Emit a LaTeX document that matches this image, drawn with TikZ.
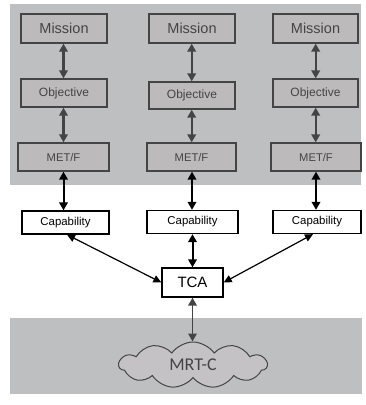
\documentclass[tikz,border=0pt]{standalone}
\usepackage{fontspec}
\setmainfont{Liberation Sans}
\newfontfamily\cloudfont{Carlito}
\usetikzlibrary{arrows.meta,shapes.symbols}
\definecolor{panelgray}{HTML}{BDBFC1}
\definecolor{boxgray}{HTML}{BDBABB}
\definecolor{inkgray}{HTML}{444444}
\definecolor{cloudgray}{HTML}{C5C2C5}
\tikzset{
  graybox/.style={draw=inkgray, line width=1.3pt, fill=boxgray, text=inkgray,
    inner sep=0pt, minimum height=28pt},
  whitebox/.style={draw=black, line width=1.3pt, fill=white, text=black,
    inner sep=0pt, minimum height=23pt},
  grayarrow/.style={draw=inkgray, line width=2.1pt,
    {Triangle[length=8pt,width=8.5pt]}-{Triangle[length=8pt,width=8.5pt]}},
  blackarrow/.style={draw=black, line width=2pt,
    {Triangle[length=8pt,width=8.5pt]}-{Triangle[length=8pt,width=8.5pt]}},
  thinarrow/.style={draw=black, line width=1.2pt,
    {Triangle[length=8pt,width=7.5pt]}-{Triangle[length=8pt,width=7.5pt]}},
  fmission/.style={font=\fontsize{14.5}{16}\selectfont},
  fobjective/.style={font=\fontsize{12}{14}\selectfont},
  fmetf/.style={font=\fontsize{11.2}{13}\selectfont},
  fcap/.style={font=\fontsize{11.4}{13}\selectfont},
}
\begin{document}
\begin{tikzpicture}[x=1pt,y=-1pt]
  \useasboundingbox (0,0) rectangle (365,405);
  % shaded panels
  \fill[panelgray] (10,4) rectangle (361,185);
  \fill[panelgray] (10,318) rectangle (362,394);

  % mission boxes
  \node[graybox, fmission, minimum width=86pt, minimum height=29pt] (m1) at (64,28.5) {Mission};
  \node[graybox, fmission, minimum width=86pt, minimum height=29pt] (m2) at (192,28.5) {Mission};
  \node[graybox, fmission, minimum width=85pt, minimum height=29pt] (m3) at (315.5,28.5) {Mission};

  % objective boxes
  \node[graybox, fobjective, minimum width=86pt] (o1) at (64,93) {Objective};
  \node[graybox, fobjective, minimum width=86pt, minimum height=27pt] (o2) at (192,95.5) {Objective};
  \node[graybox, fobjective, minimum width=85pt] (o3) at (315.5,93) {Objective};

  % MET/F boxes
  \node[graybox, fmetf, minimum width=91pt] (f1) at (63.5,157) {MET/F};
  \node[graybox, fmetf, minimum width=89pt] (f2) at (191.5,157) {MET/F};
  \node[graybox, fmetf, minimum width=90pt] (f3) at (316,157) {MET/F};

  % capability boxes
  \node[whitebox, fcap, minimum width=87pt] (c1) at (65.5,222.5) {Capability};
  \node[whitebox, fcap, minimum width=91pt] (c2) at (192.5,222) {Capability};
  \node[whitebox, fcap, minimum width=88pt] (c3) at (317,222) {Capability};

  % TCA
  \node[whitebox, font=\fontsize{15}{17}\selectfont, minimum width=61pt, minimum height=29pt] (tca) at (192.5,282.5) {TCA};

  % cloud
  \node[cloud, cloud puffs=11, cloud puff arc=110, aspect=3.3, draw=inkgray, line width=1pt,
        fill=cloudgray, text=inkgray, font=\cloudfont\fontsize{18}{20}\selectfont,
        minimum width=148pt, minimum height=46pt, inner sep=0pt] (mrt) at (193,365)
        {\raisebox{-5pt}{MRT-C}};

  % vertical links inside the upper panel
  \draw[grayarrow] (m1.south -| 63.5,0) -- (o1.north -| 63.5,0);
  \draw[grayarrow] (o1.south -| 63.5,0) -- (f1.north -| 63.5,0);
  \draw[grayarrow] (m2.south -| 191.7,0) -- (o2.north -| 191.7,0);
  \draw[grayarrow] (o2.south -| 191.7,0) -- (f2.north -| 191.7,0);
  \draw[grayarrow] (m3.south -| 315.7,0) -- (o3.north -| 315.7,0);
  \draw[grayarrow] (o3.south -| 315.7,0) -- (f3.north -| 315.7,0);

  % MET/F to capability
  \draw[blackarrow] (f1.south -| 63.5,0) -- (c1.north -| 63.5,0);
  \draw[blackarrow] (f2.south -| 192,0) -- (c2.north -| 192,0);
  \draw[blackarrow] (f3.south -| 316,0) -- (c3.north -| 316,0);

  % capabilities to TCA
  \draw[thinarrow] ([xshift=1.5pt]c1.south) -- (tca.west);
  \draw[blackarrow] (c2.south -| 192.5,0) -- (tca.north -| 192.5,0);
  \draw[thinarrow] ([xshift=-4pt]c3.south) -- (tca.east);

  % TCA to MRT-C
  \draw[grayarrow, line width=1.8pt] (tca.south -| 192.5,0) -- (mrt.north -| 192.5,0);
\end{tikzpicture}
\end{document}
